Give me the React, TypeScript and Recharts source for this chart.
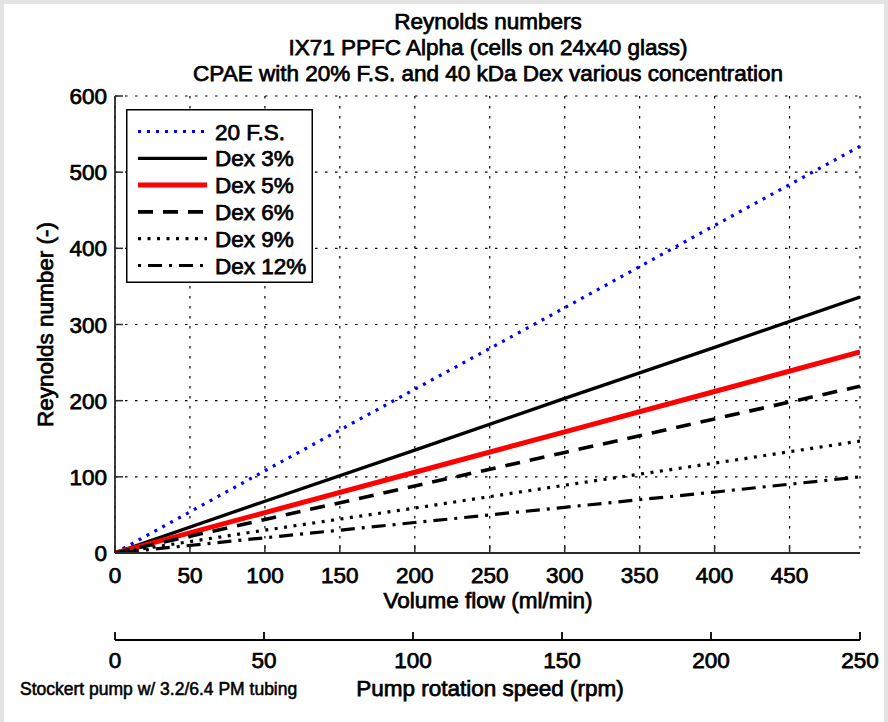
import React from 'react';
import { LineChart, Line, XAxis, YAxis, CartesianGrid, Legend } from 'recharts';

const titleLines = [
  'Reynolds numbers',
  'IX71 PPFC Alpha (cells on 24x40 glass)',
  'CPAE with 20% F.S. and 40 kDa Dex various concentration',
];
const xTitle = 'Volume flow (ml/min)';
const yTitle = 'Reynolds number (-)';
const pumpTitle = 'Pump rotation speed (rpm)';
const pumpNote = 'Stockert pump w/ 3.2/6.4 PM tubing';

const flow = [0, 100, 200, 300, 400, 497];
const fs20 = [0, 108, 215, 322, 430, 534];
const dex3 = [0, 68, 135, 203, 270, 336];
const dex5 = [0, 53, 106, 159, 212, 264];
const dex6 = [0, 44, 88, 132, 176, 219];
const dex9 = [0, 30, 59, 89, 118, 147];
const dex12 = [0, 20, 40, 60, 80, 100];

const flowTicks = [0, 50, 100, 150, 200, 250, 300, 350, 400, 450];
const reTicks = [0, 100, 200, 300, 400, 500, 600];
const rpmTicks = [0, 50, 100, 150, 200, 250];
const flowMax = 497;
const rpmMax = 250;
// position of each rpm tick on the flow scale (full pump range spans the full flow range)
const rpmTickPos = rpmTicks.map((r) => (r / rpmMax) * flowMax);

const seriesKeys = ['fs20', 'dex3', 'dex5', 'dex6', 'dex9', 'dex12'];
const seriesNames = ['20 F.S.', 'Dex 3%', 'Dex 5%', 'Dex 6%', 'Dex 9%', 'Dex 12%'];
const seriesValues = [fs20, dex3, dex5, dex6, dex9, dex12];
const seriesColors = ['#0000ff', '#000000', '#ff0000', '#000000', '#000000', '#000000'];
const seriesWidths = [3.2, 3.3, 5, 3.6, 3.2, 3.2];
const seriesDash = ['3 6', undefined, undefined, '15 10', '3 6.5', '3 7 14 7'];

const data = flow.map((f, i) => {
  const row: Record<string, number> = { flow: f };
  seriesKeys.forEach((k, j) => {
    row[k] = seriesValues[j][i];
  });
  return row;
});

const FONT = '"Liberation Sans", Arial, Helvetica, sans-serif';
const txt = { fontFamily: FONT, fontSize: 22.5, fill: '#000', stroke: '#000', strokeWidth: 0.75 } as const;
const AX = '#2a2a2a';

const BottomTick = (p: any) => (
  <g>
    <line x1={p.x} x2={p.x} y1={p.y} y2={p.y - 8} stroke={AX} strokeWidth={1.5} />
    <text x={p.x} y={p.y + 29.5} textAnchor="middle" style={txt}>{p.payload.value}</text>
  </g>
);
const TopTick = (p: any) => (
  <line x1={p.x} x2={p.x} y1={p.y} y2={p.y + 8} stroke={AX} strokeWidth={1.5} />
);
const LeftTick = (p: any) => (
  <g>
    <line x1={p.x} x2={p.x + 8} y1={p.y} y2={p.y} stroke={AX} strokeWidth={1.5} />
    <text x={p.x - 8} y={p.y} dy="0.36em" textAnchor="end" style={txt}>{p.payload.value}</text>
  </g>
);
const RightTick = (p: any) => (
  <line x1={p.x} x2={p.x - 8} y1={p.y} y2={p.y} stroke={AX} strokeWidth={1.5} />
);
const PumpTick = (p: any) => (
  <g>
    <line x1={p.x} x2={p.x} y1={p.y} y2={p.y - 8} stroke="#000" strokeWidth={1.8} />
    <text x={p.x} y={p.y + 28} textAnchor="middle" style={txt}>{rpmTicks[p.index]}</text>
  </g>
);

const LegendBox = () => (
  <svg width={187} height={174} style={{ display: 'block' }}>
    <rect x={0.75} y={0.75} width={185.5} height={172.5} fill="#fff" stroke="#000" strokeWidth={1.5} />
    {seriesNames.map((n, i) => {
      const cy = 22.5 + i * 26.8;
      return (
        <g key={n}>
          <line x1={12} x2={81} y1={cy} y2={cy} stroke={seriesColors[i]} strokeWidth={seriesWidths[i]} strokeDasharray={seriesDash[i]} />
          <text x={89} y={cy} dy="0.36em" style={txt}>{n}</text>
        </g>
      );
    })}
  </svg>
);

export default function App() {
  return (
    <div style={{ position: 'absolute', left: 0, top: 0, width: 888, height: 722, background: '#e3e3e3' }}>
      <div style={{ position: 'absolute', left: 4, top: 4, width: 880, height: 718, background: '#fff' }} />
      <div style={{ position: 'absolute', left: 0, top: 0 }}>
        <LineChart width={888} height={722} data={data} margin={{ top: 96, right: 28, bottom: 12, left: 15 }}>
          <CartesianGrid stroke="#000" strokeWidth={1.2} strokeDasharray="2.5 7.5" />
          <XAxis
            dataKey="flow"
            type="number"
            domain={[0, flowMax]}
            allowDataOverflow
            ticks={flowTicks}
            interval={0}
            height={87}
            tickSize={0}
            tickMargin={0}
            tickLine={false}
            axisLine={{ stroke: AX, strokeWidth: 1.8 }}
            tick={<BottomTick />}
          />
          <XAxis
            xAxisId="pump"
            dataKey="flow"
            type="number"
            domain={[0, flowMax]}
            allowDataOverflow
            ticks={rpmTickPos}
            interval={0}
            height={70}
            tickSize={0}
            tickMargin={0}
            tickLine={false}
            axisLine={{ stroke: '#000', strokeWidth: 1.8 }}
            tick={<PumpTick />}
          />
          <XAxis
            xAxisId="top"
            dataKey="flow"
            orientation="top"
            type="number"
            domain={[0, flowMax]}
            allowDataOverflow
            ticks={flowTicks}
            interval={0}
            height={0}
            tickSize={0}
            tickMargin={0}
            tickLine={false}
            axisLine={{ stroke: AX, strokeWidth: 1.8 }}
            tick={<TopTick />}
          />
          <YAxis
            type="number"
            domain={[0, 600]}
            allowDataOverflow
            ticks={reTicks}
            interval={0}
            width={100}
            tickSize={0}
            tickMargin={0}
            tickLine={false}
            axisLine={{ stroke: AX, strokeWidth: 1.8 }}
            tick={<LeftTick />}
          />
          <YAxis
            yAxisId="right"
            orientation="right"
            type="number"
            domain={[0, 600]}
            allowDataOverflow
            ticks={reTicks}
            interval={0}
            width={0}
            tickSize={0}
            tickMargin={0}
            tickLine={false}
            axisLine={{ stroke: AX, strokeWidth: 1.8 }}
            tick={<RightTick />}
          />
          {seriesKeys.map((k, i) => (
            <Line
              key={k}
              dataKey={k}
              name={seriesNames[i]}
              type="linear"
              stroke={seriesColors[i]}
              strokeWidth={seriesWidths[i]}
              strokeDasharray={seriesDash[i]}
              dot={false}
              activeDot={false}
              isAnimationActive={false}
            />
          ))}
          <Legend
            layout="vertical"
            align="center"
            verticalAlign="middle"
            wrapperStyle={{ left: 126, top: 109, width: 187, height: 174 }}
            content={() => <LegendBox />}
          />
          <g>
            {titleLines.map((t, i) => (
              <text key={t} x={488} y={28.5 + i * 26} textAnchor="middle" style={txt}>{t}</text>
            ))}
            <text x={488} y={607.5} textAnchor="middle" style={txt}>{xTitle}</text>
            <text x={0} y={0} transform="translate(53,324.5) rotate(-90)" textAnchor="middle" style={txt}>{yTitle}</text>
            <text x={490} y={696} textAnchor="middle" style={txt}>{pumpTitle}</text>
            <text x={20} y={695} style={{ ...txt, fontSize: 17.5, strokeWidth: 0.55 }}>{pumpNote}</text>
          </g>
        </LineChart>
      </div>
    </div>
  );
}
